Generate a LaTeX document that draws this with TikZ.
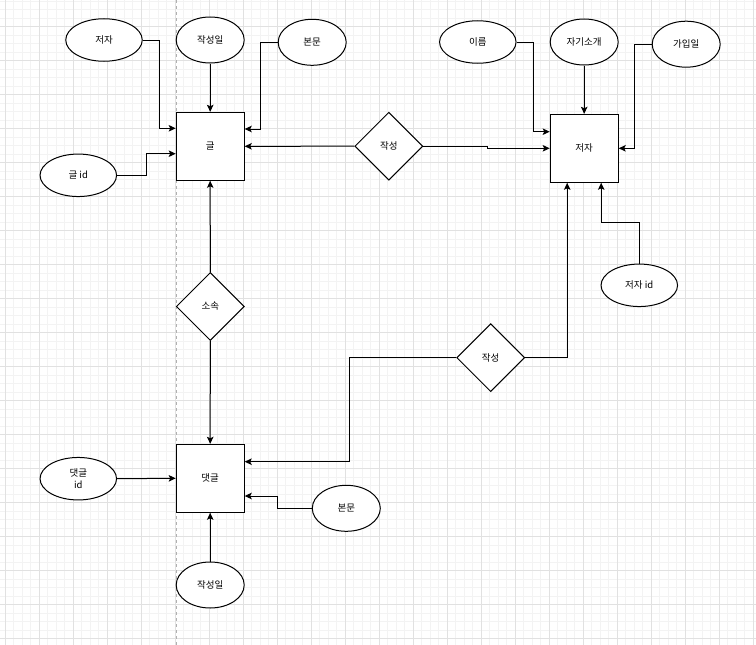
\documentclass[tikz,border=0pt]{standalone}
\usepackage{fontspec}
\newfontfamily\kr{Noto Sans CJK KR}
\usetikzlibrary{shapes.geometric,arrows.meta}
\definecolor{minorc}{HTML}{F3F3F3}
\definecolor{majorc}{HTML}{E1E1E1}
\definecolor{dashc}{HTML}{B0B0B0}
\tikzset{
  base/.style={draw=black, line width=1pt, fill=white, inner sep=0pt, font=\kr\fontsize{9.5}{12}\selectfont, align=center},
  entity/.style={base, rectangle, minimum width=68pt, minimum height=68pt},
  attr/.style={base, ellipse, minimum width=68pt, minimum height=46pt},
  wattr/.style={base, ellipse, minimum width=76.5pt, minimum height=42.5pt},
  rel/.style={base, diamond, minimum width=68pt, minimum height=68pt},
  arr/.style={draw=black, line width=1pt, -{Stealth[length=7pt,width=6.5pt,inset=1.5pt]}},
  minorgrid/.style={draw=minorc, line width=0.7pt},
  majorgrid/.style={draw=majorc, line width=0.8pt},
}
\begin{document}
\begin{tikzpicture}[x=1pt, y=-1pt]
\useasboundingbox (0,0) rectangle (756,645);
\fill[white] (0,0) rectangle (756,645);
% grid
\foreach \k in {-1,...,88} \draw[minorgrid] ({5.3+8.5*\k},0) -- ({5.3+8.5*\k},645);
\foreach \k in {-4,...,73} \draw[minorgrid] (0,{26.7+8.5*\k}) -- (756,{26.7+8.5*\k});
\foreach \k in {0,...,22} \draw[majorgrid] ({5.3+34*\k},0) -- ({5.3+34*\k},645);
\foreach \k in {-1,...,18} \draw[majorgrid] (0,{26.7+34*\k}) -- (756,{26.7+34*\k});
% dashed guide
\draw[dashc, line width=0.8pt, dash pattern=on 3pt off 3pt] (176.3,0) -- (176.3,645);

% entities
\node[entity] (gbox) at (210.2,146.3) {글};
\node[entity] (jbox) at (584.2,148.3) {저자};
\node[entity] (dbox) at (210.2,478.3) {댓글};

% attributes of 글
\node[wattr] (ga1) at (104,40) {저자};
\node[attr] (ga2) at (210.2,40) {작성일};
\node[attr] (ga3) at (312.2,42.3) {본문};
\node[wattr] (ga4) at (78.3,175.3) {글 id};

% attributes of 저자
\node[wattr] (ja1) at (477.8,42) {이름};
\node[attr] (ja2) at (584.2,42) {자기소개};
\node[attr] (ja3) at (686.2,44.2) {가입일};
\node[wattr] (ja4) at (639.3,285.3) {저자 id};

% attributes of 댓글
\node[wattr] (da1) at (78.3,478.7) {댓글\\id};
\node[attr] (da2) at (346.3,508.3) {본문};
\node[attr] (da3) at (210.2,585) {작성일};

% relations
\node[rel] (rel1) at (388.8,146.2) {작성};
\node[rel] (rel2) at (490.7,357.7) {작성};
\node[rel] (rel3) at (210.3,306.5) {소속};

% connectors
\draw[arr] (ga1.east) -- ++(17,0) |- ([yshift=18pt]gbox.west);
\draw[arr] (ga2.south) -- (gbox.north);
\draw[arr] (ga3.west) -- ++(-17.3,0) |- ([yshift=17.3pt]gbox.east);
\draw[arr] (ga4.east) -- ++(29.6,0) |- ([yshift=-7.4pt]gbox.west);
\draw[arr] (rel1.west) -- (gbox.east);
\draw[arr] (rel1.east) -- ++(64,0) |- (jbox.west);

\draw[arr] (ja1.east) -- ++(17,0) |- ([yshift=16.6pt]jbox.west);
\draw[arr] (ja2.south) -- (jbox.north);
\draw[arr] (ja3.west) -- ++(-16.9,0) |- (jbox.east);
\draw[arr] (ja4.north) -- ++(0,-41) -| ([xshift=17pt]jbox.south);

\draw[arr] (rel2.east) -| ([xshift=-17pt]jbox.south);
\draw[arr] (rel2.west) -- ++(-106.4,0) |- ([yshift=16.6pt]dbox.east);

\draw[arr] (rel3.north) -- (gbox.south);
\draw[arr] (rel3.south) -- (dbox.north);

\draw[arr] (da1.east) -- (dbox.west);
\draw[arr] (da2.west) -- ++(-34,0) |- ([yshift=-17.7pt]dbox.east);
\draw[arr] (da3.north) -- (dbox.south);
\end{tikzpicture}
\end{document}
